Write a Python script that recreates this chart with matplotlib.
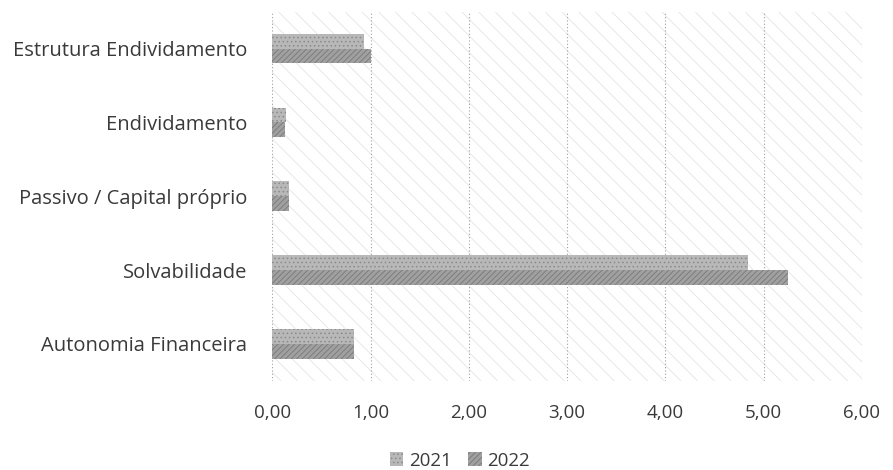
import numpy as np
import matplotlib.pyplot as plt
from matplotlib.patches import Rectangle

plt.rcParams['font.family'] = ['Open Sans', 'DejaVu Sans']
plt.rcParams['hatch.linewidth'] = 0.6

categories = ["Autonomia Financeira", "Solvabilidade", "Passivo / Capital próprio",
              "Endividamento", "Estrutura Endividamento"]
vals_2021 = [0.83, 4.84, 0.17, 0.14, 0.93]
vals_2022 = [0.83, 5.25, 0.17, 0.13, 1.00]
series_labels = ["2021", "2022"]
xticks = [0, 1, 2, 3, 4, 5, 6]

fig = plt.figure(figsize=(8.93, 4.70), dpi=100)
ax = fig.add_axes([0.305, 0.19, 0.66, 0.785])

# light diagonal texture behind the bars
bg = Rectangle((0, 0), 1, 1, transform=ax.transAxes, facecolor="white",
               edgecolor="#e4e4e4", hatch="\\\\", linewidth=0, zorder=0)
ax.add_patch(bg)
ax.patch.set_visible(False)

y = np.arange(len(categories))
h = 0.2
ax.barh(y + h / 2, vals_2021, height=h, color="#b8b8b8", edgecolor="#8a8a8a",
        hatch="....", linewidth=0, label=series_labels[0], zorder=3)
ax.barh(y - h / 2, vals_2022, height=h, color="#a0a0a0", edgecolor="#787878",
        hatch="//////", linewidth=0, label=series_labels[1], zorder=3)

ax.set_xlim(0, 6)
ax.set_ylim(-0.5, len(categories) - 0.5)
ax.set_xticks(xticks)
ax.set_xticklabels([f"{t:.2f}".replace(".", ",") for t in xticks], fontsize=13.5, color="#3a3a3a")
ax.set_yticks(y)
ax.set_yticklabels(categories, fontsize=14.5, color="#3a3a3a")
ax.tick_params(length=0)
ax.tick_params(axis="x", pad=17)
ax.tick_params(axis="y", pad=18)
for s in ax.spines.values():
    s.set_visible(False)
ax.xaxis.grid(True, color="#a0a0a0", linestyle=(0, (1, 2)), linewidth=0.8, zorder=1)
ax.set_axisbelow(True)

leg = fig.legend(loc="lower center", bbox_to_anchor=(0.515, -0.035), ncol=2, frameon=False,
                 fontsize=13.5, handlelength=0.7, handleheight=0.7, handletextpad=0.3,
                 columnspacing=0.9)
for t in leg.get_texts():
    t.set_color("#3a3a3a")

fig.savefig("out.png", dpi=100)
